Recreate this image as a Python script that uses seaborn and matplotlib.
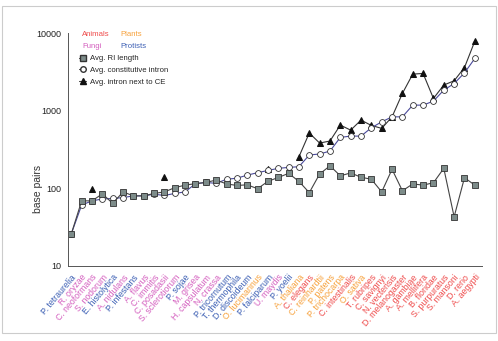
import numpy as np
import pandas as pd
import seaborn as sns
import matplotlib.pyplot as plt
from matplotlib.patches import Rectangle
from matplotlib.lines import Line2D

species = ['P. tetraurelia', 'R. oryzae', 'C. neoformans', 'S. nodorum', 'E. histolytica',
           'A. nidulans', 'P. infestans', 'A. flavus', 'C. immitis', 'C. posadasii',
           'S. sclerotiorum', 'P. sojae', 'M. grisea', 'H. capsulatum', 'N. crassa',
           'P. tricornutum', 'T. thermophila', 'D. discoideum', 'O. lucimarinus', 'P. falciparum',
           'U. maydis', 'P. yoelii', 'A. thaliana', 'C. elegans', 'C. reinhardtii',
           'P. patens', 'P. trichocarpa', 'C. intestinalis', 'O. sativa', 'T. rubripes',
           'C. savignyi', 'N. vectensis', 'D. melanogaster', 'A. gambiae', 'A. mellifera',
           'B. floridae', 'S. purpuratus', 'S. mansoni', 'D. rerio', 'A. aegypti']

groups = ['Protists', 'Fungi', 'Fungi', 'Fungi', 'Protists',
          'Fungi', 'Protists', 'Fungi', 'Fungi', 'Fungi',
          'Fungi', 'Protists', 'Fungi', 'Fungi', 'Fungi',
          'Protists', 'Protists', 'Protists', 'Plants', 'Protists',
          'Fungi', 'Protists', 'Plants', 'Animals', 'Plants',
          'Plants', 'Plants', 'Animals', 'Plants', 'Animals',
          'Animals', 'Animals', 'Animals', 'Animals', 'Animals',
          'Animals', 'Animals', 'Animals', 'Animals', 'Animals']

ri_length = [26, 69, 69, 85, 64, 90, 80, 80, 86, 90,
             102, 110, 115, 119, 128, 114, 109, 111, 99, 123,
             138, 156, 123, 88, 153, 195, 145, 158, 139, 131,
             90, 176, 93, 114, 110, 118, 181, 43, 137, 110]

const_intron = [26, 61, 69, 73, 74, 76, 80, 80, 84, 81,
                86, 90, 115, 119, 116, 131, 135, 148, 159, 170,
                181, 186, 190, 269, 277, 302, 453, 471, 471, 603,
                719, 834, 834, 1180, 1180, 1330, 1840, 2240, 3070, 4710]

intron_ce = [None, None, 97, None, None, None, None, None, None, 141,
             None, None, None, None, None, None, None, None, None, 177,
             None, None, 255, 516, 383, 407, 653, 562, 757, 646,
             592, 834, 1670, 2960, 3020, 1440, 2140, 2430, 3600, 7870]

group_colors = {'Animals': '#ef4b4b', 'Plants': '#f7a13b',
                'Fungi': '#d45fbf', 'Protists': '#3c5fb4'}

df = pd.DataFrame({'x': np.arange(len(species)), 'ri': ri_length,
                   'const': const_intron, 'ce': pd.array(intron_ce, dtype='Float64')})

sns.set_style('white')
plt.rcParams['font.family'] = ['Liberation Sans', 'DejaVu Sans']

fig = plt.figure(figsize=(4.98, 3.41), dpi=100)
ax = fig.add_axes([0.137, 0.22, 0.831, 0.683])

# triangles: draw each run of consecutive values separately
ce = df.dropna(subset=['ce']).copy()
ce['run'] = (ce['x'].diff() != 1).cumsum()
for _, seg in ce.groupby('run'):
    sns.lineplot(x=seg['x'], y=seg['ce'].astype(float), ax=ax, color='#333333', lw=0.8,
                 marker='^', markersize=5, markerfacecolor='#111111',
                 markeredgecolor='#111111', legend=False)

sns.lineplot(data=df, x='x', y='const', ax=ax, color='#4a4a9a', lw=0.8, marker='o',
             markersize=4.2, markerfacecolor='white', markeredgecolor='#333333',
             markeredgewidth=0.6, legend=False)
sns.lineplot(data=df, x='x', y='ri', ax=ax, color='#444444', lw=0.8, marker='s',
             markersize=4.3, markerfacecolor='#7d8c8a', markeredgecolor='#333333',
             markeredgewidth=0.6, legend=False)

ax.set_yscale('log')
ax.set_ylim(10, 10000)
ax.set_xlim(-0.3, 39.7)
ax.set_yticks([10, 100, 1000, 10000])
ax.set_yticklabels(['10', '100', '1000', '10000'], fontsize=6.5)
ax.minorticks_off()
ax.set_xticks(df['x'])
ax.set_xticklabels(species, rotation=50, ha='right', rotation_mode='anchor', fontsize=6.3)
ax.tick_params(axis='both', direction='out', length=3, width=0.6, colors='#444444',
               labelcolor='#222222', pad=2)
for lbl, g in zip(ax.get_xticklabels(), groups):
    lbl.set_color(group_colors[g])
ax.set_xlabel('')
ax.set_ylabel('base pairs', fontsize=7.5, color='#333333')
ax.yaxis.set_label_coords(-0.06, 0.33)
sns.despine(ax=ax)
for s in ['left', 'bottom']:
    ax.spines[s].set_color('#555555')
    ax.spines[s].set_linewidth(0.7)

# group colour key
fs_key = 5.6
fig.text(82 / 498, 1 - 35 / 341, 'Animals', color=group_colors['Animals'], fontsize=fs_key, va='center')
fig.text(120 / 498, 1 - 35 / 341, 'Plants', color=group_colors['Plants'], fontsize=fs_key, va='center')
fig.text(82 / 498, 1 - 47 / 341, 'Fungi', color=group_colors['Fungi'], fontsize=fs_key, va='center')
fig.text(120 / 498, 1 - 47 / 341, 'Protists', color=group_colors['Protists'], fontsize=fs_key, va='center')

handles = [
    Line2D([], [], color='#444444', lw=0.8, marker='s', markersize=4, markerfacecolor='#7d8c8a',
           markeredgecolor='#333333'),
    Line2D([], [], color='#444444', lw=0.8, marker='o', markersize=4, markerfacecolor='white',
           markeredgecolor='#333333'),
    Line2D([], [], color='#444444', lw=0.8, marker='^', markersize=4.5, markerfacecolor='#111111',
           markeredgecolor='#111111'),
]
ax.legend(handles, ['Avg. RI length', 'Avg. constitutive intron', 'Avg. intron next to CE'],
          loc='upper left', bbox_to_anchor=(0.012, 0.93), frameon=False, fontsize=fs_key,
          handlelength=1.0, handletextpad=0.4, labelspacing=0.55, borderaxespad=0.3)

fig.add_artist(Rectangle((0.004, 1 - 333 / 341), 0.992, (333 - 6) / 341, transform=fig.transFigure,
                         fill=False, edgecolor='#cccccc', lw=0.8))

fig.savefig('out.png', dpi=100)
